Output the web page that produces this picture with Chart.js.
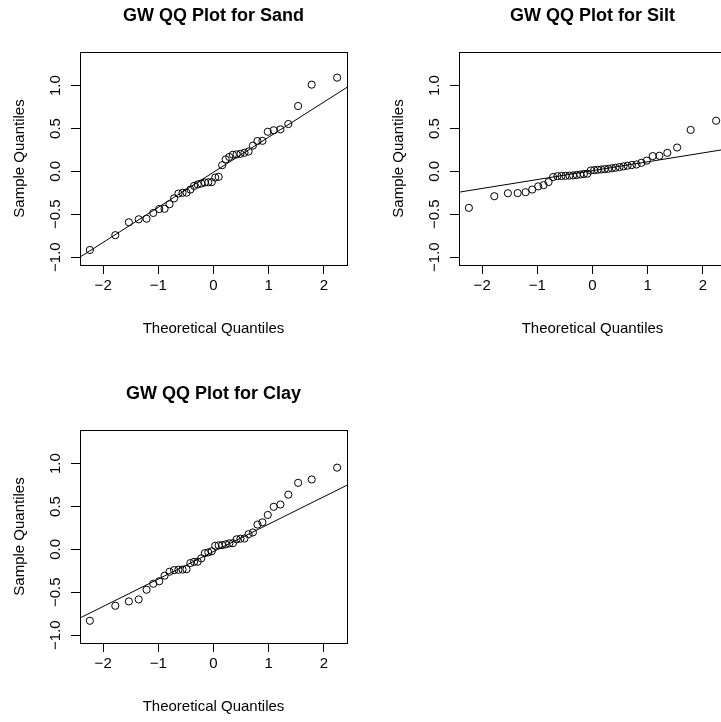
<!DOCTYPE html>
<html>
<head>
<meta charset="utf-8">
<title>GW QQ Plots</title>
<script src="https://cdn.jsdelivr.net/npm/chart.js@4.4.1/dist/chart.umd.min.js"></script>
<style>
  html, body { margin: 0; padding: 0; background: #fff; overflow: hidden; width: 721px; height: 722px; }
  .panel { position: absolute; width: 378px; height: 378px; }
</style>
</head>
<body>
<div class="panel" style="left:0;top:0"><canvas id="sandChart" width="378" height="378"></canvas></div>
<div class="panel" style="left:379px;top:0"><canvas id="siltChart" width="378" height="378"></canvas></div>
<div class="panel" style="left:0;top:378px"><canvas id="clayChart" width="378" height="378"></canvas></div>
<script>
// Theoretical normal quantiles (40 points, same for every panel)
const theoQ = [-2.241, -1.780, -1.534, -1.356, -1.213, -1.092, -0.984, -0.887, -0.797, -0.714,
  -0.636, -0.561, -0.489, -0.419, -0.352, -0.286, -0.221, -0.157, -0.094, -0.031,
  0.031, 0.094, 0.157, 0.221, 0.286, 0.352, 0.419, 0.489, 0.561, 0.636,
  0.714, 0.797, 0.887, 0.984, 1.092, 1.213, 1.356, 1.534, 1.780, 2.241];

// Sorted sample quantiles
const sandSample = [-0.917, -0.744, -0.594, -0.559, -0.552, -0.485, -0.439, -0.437, -0.383, -0.315,
  -0.259, -0.25, -0.248, -0.212, -0.17, -0.152, -0.142, -0.13, -0.128, -0.125,
  -0.072, -0.064, 0.072, 0.14, 0.168, 0.194, 0.198, 0.205, 0.217, 0.232,
  0.30, 0.354, 0.356, 0.462, 0.479, 0.49, 0.552, 0.762, 1.011, 1.093];
const siltSample = [-0.426, -0.29, -0.255, -0.253, -0.243, -0.212, -0.175, -0.16, -0.125, -0.066,
  -0.056, -0.054, -0.052, -0.05, -0.047, -0.042, -0.036, -0.031, -0.027, 0.01,
  0.014, 0.018, 0.022, 0.026, 0.03, 0.036, 0.042, 0.05, 0.058, 0.066,
  0.074, 0.08, 0.10, 0.125, 0.178, 0.182, 0.216, 0.278, 0.483, 0.59];
const claySample = [-0.833, -0.658, -0.607, -0.584, -0.471, -0.401, -0.372, -0.307, -0.261, -0.242,
  -0.238, -0.235, -0.232, -0.16, -0.146, -0.144, -0.105, -0.044, -0.035, -0.022,
  0.042, 0.047, 0.05, 0.058, 0.07, 0.072, 0.117, 0.124, 0.126, 0.177,
  0.197, 0.289, 0.315, 0.401, 0.496, 0.523, 0.638, 0.776, 0.815, 0.953];

// qqline: [intercept, slope] per panel
const sandLine = [-0.010, 0.409];
const siltLine = [0.008, 0.1036];
const clayLine = [-0.026, 0.320];

// axis ranges and ticks
const xRange = [-2.42, 2.42];
const yRange = [-1.092, 1.392];
const xTicks = [-2, -1, 0, 1, 2];
const yTicks = [-1, -0.5, 0, 0.5, 1];

Chart.defaults.font.family = '"Liberation Sans", Arial, Helvetica, sans-serif';
Chart.defaults.color = '#000';

function fmt(v, d) {
  return (v < 0 ? '\u2212' : '') + Math.abs(v).toFixed(d);
}

// R-style box around the plot region
const plotBox = {
  id: 'plotBox',
  afterDatasetsDraw(chart) {
    const a = chart.chartArea;
    const ctx = chart.ctx;
    ctx.save();
    ctx.strokeStyle = '#000';
    ctx.lineWidth = 1;
    ctx.strokeRect(Math.round(a.left) + 0.5, Math.round(a.top) + 0.5,
      Math.round(a.right - a.left), Math.round(a.bottom - a.top));
    ctx.restore();
  }
};

function qqChart(id, title, sample, line) {
  const pts = sample.map((y, i) => ({ x: theoQ[i], y: y }));
  const linePts = xRange.map(x => ({ x: x, y: line[0] + line[1] * x }));
  new Chart(document.getElementById(id), {
    type: 'scatter',
    data: {
      datasets: [
        {
          data: linePts,
          showLine: true,
          borderColor: '#000',
          borderWidth: 1,
          pointRadius: 0
        },
        {
          data: pts,
          pointStyle: 'circle',
          pointRadius: 3.6,
          pointBorderWidth: 1,
          pointBorderColor: '#000',
          pointBackgroundColor: 'rgba(0,0,0,0)'
        }
      ]
    },
    options: {
      responsive: false,
      animation: false,
      layout: { padding: { left: 0, top: 0, right: 31, bottom: 0 } },
      plugins: {
        legend: { display: false },
        tooltip: { enabled: false },
        title: {
          display: true,
          text: title,
          fullSize: false,
          color: '#000',
          font: { size: 18, weight: 'bold' },
          padding: { top: 5.5, bottom: 24.9 }
        }
      },
      scales: {
        x: {
          type: 'linear',
          position: 'bottom',
          min: xRange[0],
          max: xRange[1],
          bounds: 'data',
          afterBuildTicks: s => { s.ticks = xTicks.map(v => ({ value: v })); },
          afterFit: s => { s.height = 113; },
          grid: { drawOnChartArea: false, drawTicks: true, tickLength: 9, color: '#000' },
          border: { display: false },
          ticks: {
            autoSkip: false, minRotation: 0, maxRotation: 0, padding: 3,
            font: { size: 15 }, color: '#000',
            callback: v => fmt(v, 0)
          },
          title: {
            display: true, text: 'Theoretical Quantiles', color: '#000',
            font: { size: 15 }, padding: { top: 0, bottom: 40 }
          }
        },
        y: {
          type: 'linear',
          position: 'left',
          min: yRange[0],
          max: yRange[1],
          bounds: 'data',
          afterBuildTicks: s => { s.ticks = yTicks.map(v => ({ value: v })); },
          afterFit: s => { s.width = 80; },
          grid: { drawOnChartArea: false, drawTicks: true, tickLength: 9, color: '#000' },
          border: { display: false },
          ticks: {
            autoSkip: false, minRotation: 90, maxRotation: 90, padding: 0,
            crossAlign: 'center', font: { size: 15 }, color: '#000',
            callback: v => fmt(v, 1)
          },
          title: {
            display: true, text: 'Sample Quantiles', color: '#000',
            font: { size: 15 }, padding: { top: 11, bottom: 0 }
          }
        }
      }
    },
    plugins: [plotBox]
  });
}

window.onload = function () {
  qqChart('sandChart', 'GW QQ Plot for Sand', sandSample, sandLine);
  qqChart('siltChart', 'GW QQ Plot for Silt', siltSample, siltLine);
  qqChart('clayChart', 'GW QQ Plot for Clay', claySample, clayLine);
};
</script>
</body>
</html>
